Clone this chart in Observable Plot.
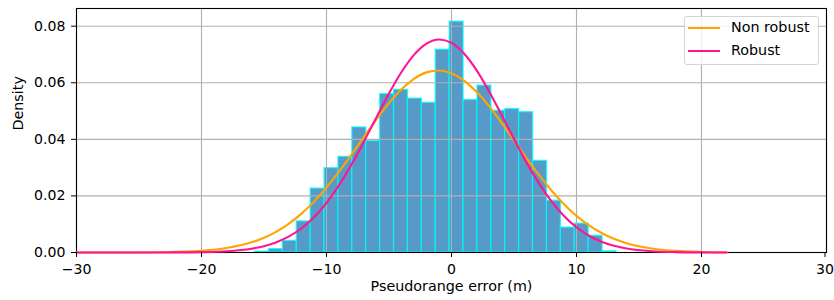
<!DOCTYPE html>
<html><head><meta charset="utf-8">
<script src="https://cdn.jsdelivr.net/npm/d3@7"></script>
<script src="https://cdn.jsdelivr.net/npm/@observablehq/plot@0.6"></script>
<style>
body{margin:0;background:#fff;}
#wrap{position:relative;width:834px;height:300px;font-family:"DejaVu Sans",sans-serif;}
#legend{position:absolute;left:684px;top:16px;width:135px;height:49px;border:1px solid #d5d5d5;border-radius:3px;background:rgba(255,255,255,0.8);box-sizing:border-box;}
.lg-line{position:absolute;left:688px;width:32px;height:2px;}
.lg-text{position:absolute;left:731px;font-size:14.3px;line-height:16px;color:#000;white-space:nowrap;}
</style></head><body>
<div id="wrap"></div>
<script>
// Histogram bin edges (m) and densities
const binEdges = [-15.714,-14.602,-13.490,-12.378,-11.266,-10.154,-9.042,-7.930,-6.818,-5.706,-4.594,-3.482,-2.370,-1.258,-0.146,0.966,2.078,3.190,4.302,5.414,6.526,7.638,8.750,9.862,10.974,12.086,13.198];
const densities = [0.0003,0.0012,0.0041,0.0110,0.0226,0.0298,0.0338,0.0442,0.0394,0.0560,0.0575,0.0544,0.0529,0.0717,0.0816,0.0539,0.0590,0.0501,0.0507,0.0496,0.0324,0.0183,0.0088,0.0102,0.0059,0.0004];

// Fitted density curves
const curveX = [-30,-28,-26,-24,-22,-20,-18,-16,-15,-14,-13,-12,-11,-10,-9,-8,-7,-6,-5,-4,-3,-2,-1,0,1,2,3,4,5,6,7,8,9,10,11,12,13,14,16,18,20,22];
const nonRobust = [0.000001,0.000005,0.00002,0.00007,0.00022,0.00062,0.00157,0.00358,0.00521,0.00739,0.0102,0.01373,0.01799,0.02297,0.02858,0.03464,0.04092,0.04709,0.0528,0.05768,0.0614,0.06367,0.06435,0.06335,0.06077,0.05679,0.05171,0.04588,0.03966,0.0334,0.02741,0.02192,0.01707,0.01296,0.00958,0.0069,0.00485,0.00331,0.00144,0.00056,0.0002,0.00006];
const robust = [0,0,0.000001,0.000006,0.000028,0.00012,0.00043,0.00134,0.00224,0.00363,0.00568,0.00857,0.01247,0.01752,0.02376,0.03108,0.03924,0.04781,0.05622,0.06379,0.06986,0.07382,0.07528,0.07408,0.07036,0.06448,0.05702,0.04867,0.04009,0.03186,0.02444,0.01809,0.01292,0.00891,0.00592,0.0038,0.00236,0.00141,0.00045,0.00013,0.00003,0.000006];

const seriesNames = ["Non robust","Robust"];
const xTicks = [-30,-20,-10,0,10,20,30];
const yTicks = [0,0.02,0.04,0.06,0.08];
const xLabel = "Pseudorange error (m)";
const yLabel = "Density";

const colors = {bar:"#1f77b4", edge:"#00ffff", series:["#ffa500","#ff1493"]};

const bins = densities.map((d,i)=>({x1:binEdges[i], x2:binEdges[i+1], y:d}));
const lines = [];
[nonRobust, robust].forEach((arr,s)=>arr.forEach((v,i)=>lines.push({series:seriesNames[s], x:curveX[i], y:v})));
const xTicksInner = xTicks.slice(0, -1);
const xTickLast = xTicks.slice(-1);

const chart = Plot.plot({
  width: 834, height: 300,
  marginLeft: 76, marginRight: 8, marginTop: 8, marginBottom: 48,
  style: {fontFamily: "'DejaVu Sans', sans-serif", fontSize: "14.1px", color: "#000", background: "#fff", overflow: "visible"},
  x: {domain: [-30, 30]},
  y: {domain: [0, 0.08625]},
  color: {domain: seriesNames, range: colors.series},
  marks: [
    Plot.rectY(bins, {x1:"x1", x2:"x2", y:"y", fill: colors.bar, fillOpacity: 0.75, stroke: colors.edge, strokeOpacity: 0.8, strokeWidth: 1.3}),
    Plot.gridX(xTicks, {stroke: "#b0b0b0", strokeOpacity: 1, strokeWidth: 1.1}),
    Plot.gridY(yTicks, {stroke: "#b0b0b0", strokeOpacity: 1, strokeWidth: 1.1}),
    Plot.frame({stroke: "#000", strokeWidth: 1.1}),
    Plot.line(lines, {x:"x", y:"y", z:"series", stroke:"series", strokeWidth: 2.1, curve: "monotone-x"}),
    Plot.axisX(xTicksInner, {tickSize: 5, tickPadding: 6, label: null, stroke: "#000"}),
    Plot.axisX(xTickLast, {tickSize: 5, tickPadding: 6, label: null, stroke: "#000", dx: -1.5}),
    Plot.axisY(yTicks, {tickSize: 5, tickPadding: 6, label: null, tickFormat: d3.format(".2f"), stroke: "#000"}),
    Plot.text([xLabel], {frameAnchor: "bottom", dy: 38.5, fontSize: 14.3, fill: "#000"}),
    Plot.text([yLabel], {frameAnchor: "left", dx: -58.5, rotate: -90, fontSize: 14.3, fill: "#000"})
  ]
});

const wrap = document.getElementById("wrap");
wrap.appendChild(chart);
const legend = document.createElement("div");
legend.id = "legend";
wrap.appendChild(legend);
seriesNames.forEach((name,i)=>{
  const y = 28 + i*22.5;
  const ln = document.createElement("div");
  ln.className = "lg-line";
  ln.style.top = (y-1) + "px";
  ln.style.background = colors.series[i];
  wrap.appendChild(ln);
  const tx = document.createElement("div");
  tx.className = "lg-text";
  tx.style.top = (y-9) + "px";
  tx.textContent = name;
  wrap.appendChild(tx);
});
</script>
</body></html>
